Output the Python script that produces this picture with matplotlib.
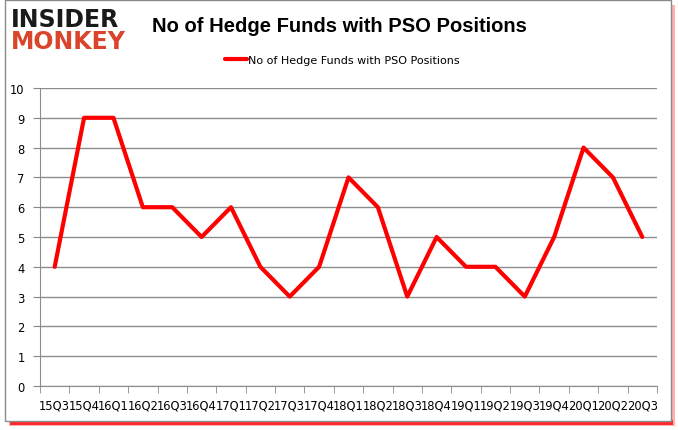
import matplotlib
matplotlib.use("Agg")
import matplotlib.pyplot as plt
from matplotlib.patches import Rectangle

quarters = ["15Q3", "15Q4", "16Q1", "16Q2", "16Q3", "16Q4", "17Q1", "17Q2", "17Q3", "17Q4",
            "18Q1", "18Q2", "18Q3", "18Q4", "19Q1", "19Q2", "19Q3", "19Q4", "20Q1", "20Q2", "20Q3"]
funds = [4, 9, 9, 6, 6, 5, 6, 4, 3, 4, 7, 6, 3, 5, 4, 4, 3, 5, 8, 7, 5]
title = "No of Hedge Funds with PSO Positions"

W, H = 678, 431
fig = plt.figure(figsize=(W / 100, H / 100), dpi=100)
fig.patch.set_facecolor("white")

def frect(x0, y0, x1, y1, **kw):
    fig.add_artist(Rectangle((x0 / W, 1 - y1 / H), (x1 - x0) / W, (y1 - y0) / H,
                             transform=fig.transFigure, **kw))

# frame with red shadow
frect(674 - 4, 6, 675, 426, facecolor="#ffb0b0", edgecolor="none", zorder=0.1)
frect(9, 420, 675, 427, facecolor="#ffb0b0", edgecolor="none", zorder=0.1)
frect(10, 421, 673, 426, facecolor="#ff2a2a", edgecolor="none", zorder=0.12)
frect(5, 1, 671, 422, facecolor="white", edgecolor="#8a8a8a", lw=1, zorder=0.2)

ax = fig.add_axes([40 / W, 44 / H, 617 / W, 298 / H])
ax.set_zorder(2)
ax.set_facecolor("none")
x = list(range(len(quarters)))
ax.plot(x, funds, color="#ff0000", lw=3, solid_capstyle="round", solid_joinstyle="round",
        label=title, zorder=3)
ax.set_xlim(-0.5, len(quarters) - 0.5)
ax.set_ylim(0, 10)
ax.set_yticks(range(0, 11))
ax.set_xticks(x)
ax.set_xticklabels(quarters, fontsize=8.3, family="DejaVu Sans")
ax.set_xticks([i - 0.5 for i in range(len(quarters) + 1)], minor=True)
ax.tick_params(axis="x", which="major", length=0, pad=9, colors="black")
ax.tick_params(axis="x", which="minor", length=5, color="#888888", direction="out")
ax.tick_params(axis="y", length=5, color="#888888", labelsize=8.3, pad=6)
ax.grid(axis="y", color="#8c8c8c", lw=1)
for s in ["top", "right"]:
    ax.spines[s].set_visible(False)
for s in ["left", "bottom"]:
    ax.spines[s].set_color("#8c8c8c")

t = fig.text(339 / W, 1 - 27 / H, title, ha="center", va="center", fontsize=14.5,
             fontweight="bold", family="Liberation Sans")
t.set_zorder(3)
leg = fig.legend(loc="center", bbox_to_anchor=(342 / W, 1 - 61 / H), frameon=False,
                 fontsize=8, handlelength=2.0, handletextpad=0.1)
leg.set_zorder(3)

for txt, yy, col in [("INSIDER", 20, "#1a1a1a"), ("MONKEY", 42, "#d9442b")]:
    fig.text(11 / W, 1 - yy / H, txt, fontsize=17, fontweight="heavy", color=col,
             va="center", ha="left", family="DejaVu Sans", zorder=3)

fig.savefig("out.png", dpi=100)
